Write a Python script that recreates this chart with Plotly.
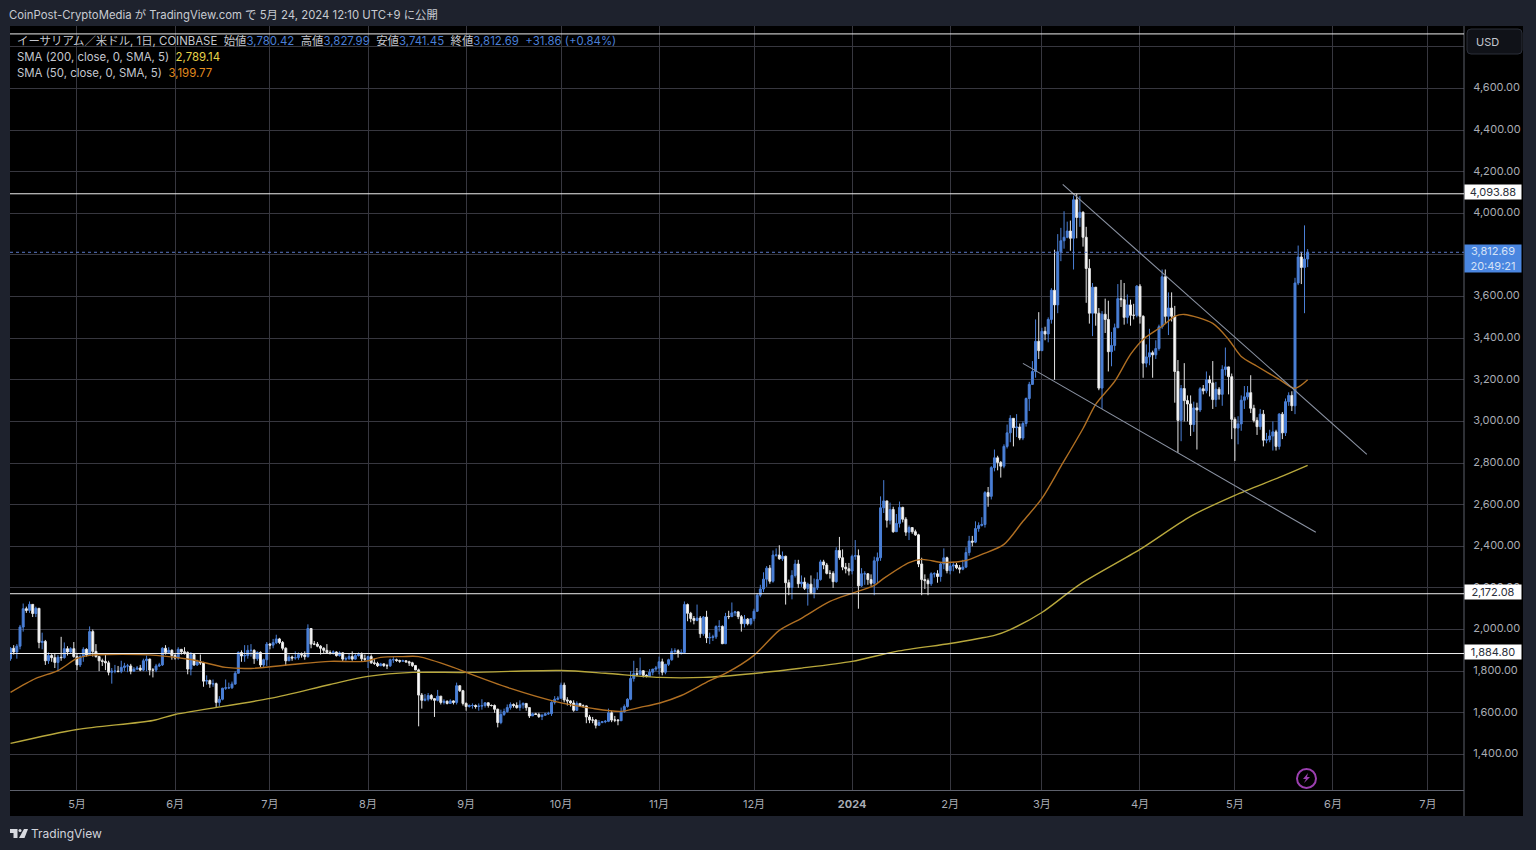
import pandas as pd
import plotly.graph_objects as go

# ---------- data ----------
closes_2304 = [1910,1892,1920,2012,2100,2092,2121,2077,2102,1938,1943,1850,1875,1865,1842,1867,1865,1908,1892,1908,1870]
highs_2304 = [1915,1925,1930,2022,2125,2110,2135,2120,2110,2102,1985,1950,1890,1882,1885,1878,1965,1938,1920,1915,1940]
lows_2304 = [1850,1880,1860,1905,1990,2080,2080,2060,2060,1910,1905,1830,1835,1845,1815,1800,1850,1860,1875,1885,1865]
closes_2305 = [1830,1870,1905,1878,1990,1895,1870,1850,1847,1840,1795,1800,1800,1798,1818,1825,1825,1800,1810,1815,1805,1850,1858,1805,1805,1825,1830,1910,1890,1900,1875]
highs_2305 = [1885,1880,1915,1910,2015,2000,1930,1870,1860,1880,1850,1815,1830,1825,1850,1840,1835,1835,1820,1825,1830,1860,1875,1860,1815,1835,1840,1915,1925,1915,1905]
lows_2305 = [1805,1820,1845,1870,1875,1870,1865,1800,1825,1805,1780,1740,1790,1795,1790,1800,1795,1785,1798,1805,1800,1800,1800,1780,1770,1795,1820,1825,1880,1885,1855]
closes_2306 = [1863,1905,1893,1890,1810,1880,1830,1845,1840,1752,1755,1738,1740,1650,1665,1718,1720,1720,1738,1790,1890,1873,1875,1900,1900,1860,1890,1830,1855,1930]
highs_2306 = [1885,1915,1905,1915,1895,1892,1885,1855,1880,1845,1780,1760,1760,1745,1680,1720,1760,1745,1750,1800,1895,1900,1925,1925,1930,1905,1895,1895,1860,1940]
lows_2306 = [1855,1855,1880,1880,1785,1780,1825,1825,1830,1725,1735,1720,1725,1625,1630,1660,1710,1715,1715,1735,1790,1845,1845,1860,1870,1835,1850,1820,1820,1825]
closes_2307 = [1925,1937,1955,1938,1910,1850,1868,1863,1865,1880,1878,1870,2005,1930,1930,1920,1910,1900,1890,1888,1892,1875,1888,1858,1860,1870,1858,1875,1880,1860,1857]
highs_2307 = [1935,1955,1975,1960,1945,1915,1880,1875,1895,1890,1890,1895,2025,2000,1945,1940,1925,1915,1930,1900,1900,1895,1895,1890,1870,1885,1895,1882,1890,1890,1880]
lows_2307 = [1905,1910,1930,1930,1900,1825,1850,1850,1855,1855,1865,1855,1865,1910,1925,1915,1880,1885,1885,1880,1880,1870,1870,1845,1850,1855,1850,1855,1870,1845,1845]
closes_2308 = [1870,1840,1837,1826,1835,1827,1826,1855,1855,1851,1848,1850,1845,1840,1827,1806,1685,1660,1665,1683,1668,1660,1680,1650,1655,1645,1657,1650,1730,1706,1645]
highs_2308 = [1875,1880,1860,1845,1840,1838,1835,1860,1870,1860,1855,1855,1850,1850,1845,1830,1812,1695,1690,1695,1690,1670,1710,1680,1665,1660,1665,1660,1745,1725,1710]
lows_2308 = [1815,1835,1830,1820,1825,1820,1810,1820,1840,1845,1840,1845,1840,1825,1820,1805,1535,1620,1655,1655,1660,1580,1655,1640,1640,1640,1645,1640,1640,1700,1635]
closes_2309 = [1630,1635,1635,1630,1632,1635,1648,1635,1635,1617,1553,1592,1606,1625,1640,1635,1625,1638,1645,1625,1585,1595,1592,1582,1588,1595,1596,1650,1665,1670]
highs_2309 = [1650,1640,1645,1640,1645,1665,1650,1650,1640,1640,1620,1615,1620,1640,1650,1645,1650,1660,1650,1645,1625,1600,1600,1600,1595,1600,1605,1655,1680,1680]
lows_2309 = [1610,1625,1620,1620,1610,1615,1625,1625,1630,1600,1530,1545,1585,1600,1615,1625,1620,1610,1620,1610,1575,1585,1590,1575,1565,1585,1590,1585,1640,1660]
closes_2310 = [1733,1662,1657,1647,1612,1645,1633,1633,1580,1565,1565,1540,1553,1557,1559,1600,1565,1565,1562,1605,1630,1665,1765,1788,1785,1802,1780,1775,1795,1810,1815]
highs_2310 = [1745,1745,1675,1660,1660,1655,1645,1640,1635,1590,1580,1570,1565,1560,1565,1620,1610,1585,1570,1625,1640,1670,1800,1850,1815,1865,1805,1785,1810,1810,1825]
lows_2310 = [1670,1650,1635,1630,1605,1610,1630,1625,1550,1550,1550,1525,1540,1550,1550,1555,1555,1555,1540,1560,1600,1625,1660,1750,1775,1780,1770,1770,1775,1780,1800]
closes_2311 = [1845,1795,1833,1855,1895,1898,1885,1890,2120,2078,2053,2044,2055,1980,2060,1960,1962,1965,2015,2015,1932,2063,2062,2080,2085,2062,2028,2050,2028,2052]
highs_2311 = [1870,1860,1835,1860,1910,1910,1905,1905,2135,2125,2085,2065,2120,2065,2065,2090,1985,1975,2020,2045,2020,2080,2090,2130,2090,2085,2070,2070,2055,2055]
lows_2311 = [1785,1780,1785,1825,1850,1880,1865,1880,1885,2040,2035,2025,2040,1960,1970,1935,1930,1945,1955,1990,1930,1930,2050,2060,2065,2050,1990,2010,2020,2020]
closes_2312 = [2088,2165,2195,2242,2295,2232,2358,2358,2340,2352,2225,2202,2260,2315,2220,2228,2198,2218,2177,2200,2240,2325,2310,2270,2270,2230,2380,2345,2300,2292,2281]
highs_2312 = [2100,2175,2215,2275,2305,2310,2380,2390,2405,2375,2355,2240,2285,2335,2335,2260,2250,2225,2260,2245,2275,2335,2335,2320,2285,2280,2395,2445,2385,2320,2320]
lows_2312 = [2040,2085,2155,2180,2205,2220,2225,2350,2335,2330,2120,2165,2145,2250,2200,2205,2190,2115,2170,2150,2190,2235,2290,2265,2245,2200,2225,2335,2285,2270,2260]
closes_2401 = [2352,2355,2210,2268,2268,2240,2222,2330,2345,2585,2618,2525,2577,2470,2510,2587,2530,2468,2490,2470,2455,2315,2240,2235,2220,2268,2268,2255,2315,2345,2283]
highs_2401 = [2360,2430,2385,2295,2280,2270,2265,2350,2370,2640,2718,2610,2610,2590,2555,2615,2590,2540,2500,2490,2480,2460,2345,2265,2245,2275,2275,2285,2320,2390,2350]
lows_2401 = [2265,2335,2100,2205,2215,2215,2210,2165,2220,2330,2560,2490,2505,2465,2495,2490,2515,2450,2430,2460,2450,2300,2165,2195,2165,2210,2250,2225,2230,2290,2270]
closes_2402 = [2305,2310,2297,2290,2300,2370,2425,2420,2485,2500,2505,2658,2640,2778,2825,2803,2785,2880,2945,3015,2970,2973,2920,2990,3110,3178,3240,3385,3340]
highs_2402 = [2325,2325,2320,2310,2335,2395,2450,2450,2520,2515,2540,2665,2685,2785,2865,2835,2810,2890,2985,3030,3015,3035,2990,3000,3115,3190,3290,3490,3525]
lows_2402 = [2265,2280,2290,2270,2285,2295,2355,2400,2415,2470,2495,2490,2590,2625,2760,2765,2730,2775,2870,2900,2880,2925,2910,2910,2975,3050,3175,3210,3300]
closes_2403 = [3433,3420,3490,3630,3560,3815,3868,3885,3915,3880,4065,3980,4005,3885,3735,3520,3645,3520,3160,3515,3490,3335,3365,3450,3590,3585,3500,3560,3510,3510,3650]
highs_2403 = [3450,3455,3500,3640,3825,3900,3930,4010,3960,3965,4085,4093.88,4083,4010,3935,3780,3665,3615,3545,3530,3590,3580,3430,3470,3660,3680,3665,3610,3585,3565,3655]
lows_2403 = [3340,3390,3380,3470,3200,3520,3770,3830,3880,3820,3730,3880,3935,3840,3570,3470,3410,3460,3150,3060,3425,3240,3265,3340,3450,3550,3465,3470,3460,3490,3500]
closes_2404 = [3505,3280,3310,3330,3320,3350,3455,3695,3505,3545,3505,3240,3005,3158,3100,3084,2985,3065,3055,3157,3147,3200,3185,3105,3155,3130,3250,3262,3215,3010]
highs_2404 = [3660,3510,3370,3445,3340,3390,3465,3730,3730,3620,3620,3555,3295,3175,3280,3125,3125,3095,3090,3165,3175,3240,3220,3290,3190,3165,3270,3355,3250,3230]
lows_2404 = [3470,3210,3260,3270,3210,3300,3340,3445,3470,3415,3480,3090,2850,2905,3000,3000,2930,2950,2865,3045,3130,3135,3120,3060,3070,3105,3075,3220,3130,2915]
closes_2405 = [2968,2988,3102,3118,3138,3063,3005,2975,3035,2910,2912,2930,2950,2880,3035,2945,3095,3125,3075,3665,3790,3740,3780.42,3812.69]
highs_2405 = [3020,3025,3125,3170,3170,3222,3080,3020,3060,3055,2945,2960,3000,2960,3040,3045,3110,3140,3145,3690,3845,3815,3942,3827.99]
lows_2405 = [2810,2890,2955,3060,3105,3040,2995,2935,2960,2880,2895,2900,2860,2860,2865,2915,2930,3075,3050,3035,3655,3660,3520,3741.45]
first_open = 1860

sma50_dates = ["2023-04-10","2023-04-18","2023-04-25","2023-05-01","2023-05-05","2023-05-11","2023-05-26","2023-06-06","2023-06-17","2023-06-25","2023-07-08","2023-07-20","2023-07-31","2023-08-05","2023-08-12","2023-08-17","2023-08-28","2023-09-01","2023-09-15","2023-09-29","2023-10-11","2023-10-20","2023-10-26","2023-11-01","2023-11-08","2023-11-17","2023-11-22","2023-12-01","2023-12-09","2023-12-16","2023-12-25","2024-01-01","2024-01-08","2024-01-11","2024-01-19","2024-01-23","2024-01-30","2024-02-06","2024-02-11","2024-02-18","2024-02-24","2024-03-01","2024-03-07","2024-03-14","2024-03-18","2024-03-24","2024-03-29","2024-04-02","2024-04-08","2024-04-12","2024-04-15","2024-04-24","2024-04-29","2024-05-03","2024-05-08","2024-05-15","2024-05-20","2024-05-24"]
sma50_values = [1698,1765,1803,1861,1876,1880,1876,1856,1818,1813,1832,1847,1847,1866,1870,1870,1818,1794,1717,1655,1621,1607,1626,1646,1683,1755,1789,1876,1996,2054,2135,2174,2212,2246,2322,2337,2322,2332,2361,2409,2520,2630,2784,2966,3082,3192,3322,3394,3457,3505,3514,3471,3394,3312,3265,3202,3159,3199.77]
sma200_dates = ["2023-04-10","2023-05-01","2023-05-25","2023-06-01","2023-07-01","2023-07-20","2023-08-01","2023-08-15","2023-09-01","2023-10-01","2023-10-15","2023-11-01","2023-11-15","2023-12-01","2023-12-15","2024-01-01","2024-01-15","2024-02-01","2024-02-10","2024-02-15","2024-02-20","2024-03-01","2024-03-13","2024-04-01","2024-04-17","2024-05-01","2024-05-15","2024-05-24"]
sma200_values = [1453,1520,1563,1592,1669,1736,1775,1794,1794,1803,1790,1770,1770,1789,1813,1847,1895,1933,1957,1972,2000,2082,2217,2385,2544,2645,2731,2789.14]

trend_upper_dates = ["2024-03-07 14:00","2024-06-11 17:00"]
trend_upper_prices = [4139,2842]
trend_lower_dates = ["2024-02-24 00:00","2024-05-26 14:00"]
trend_lower_prices = [3279,2467]

level_values = [4862,4093.88,2172.08,1884.80]
level_labels = ["4,093.88","2,172.08","1,884.80"]
price_ticks = [1400,1600,1800,2000,2200,2400,2600,2800,3000,3200,3400,3600,3800,4000,4200,4400,4600,4800]
price_tick_labels = ["1,400.00","1,600.00","1,800.00","2,000.00","2,200.00","2,400.00","2,600.00","2,800.00","3,000.00","3,200.00","3,400.00","3,600.00","","4,000.00","4,200.00","4,400.00","4,600.00",""]
time_ticks = ["2023-05-01","2023-06-01","2023-07-01","2023-08-01","2023-09-01","2023-10-01","2023-11-01","2023-12-01","2024-01-01","2024-02-01","2024-03-01","2024-04-01","2024-05-01","2024-06-01","2024-07-01"]
time_tick_labels = ["5月","6月","7月","8月","9月","10月","11月","12月","<b>2024</b>","2月","3月","4月","5月","6月","7月"]

closes = closes_2304+closes_2305+closes_2306+closes_2307+closes_2308+closes_2309+closes_2310+closes_2311+closes_2312+closes_2401+closes_2402+closes_2403+closes_2404+closes_2405
highs = highs_2304+highs_2305+highs_2306+highs_2307+highs_2308+highs_2309+highs_2310+highs_2311+highs_2312+highs_2401+highs_2402+highs_2403+highs_2404+highs_2405
lows = lows_2304+lows_2305+lows_2306+lows_2307+lows_2308+lows_2309+lows_2310+lows_2311+lows_2312+lows_2401+lows_2402+lows_2403+lows_2404+lows_2405
opens = [first_open] + closes[:-1]
dates = pd.date_range("2023-04-10", periods=len(closes), freq="D")

# ---------- style ----------
W, H = 1536, 850
L, R, T, B = 10, 1464, 26, 790
BG = "#1e222d"
BLUE = "#4a7fd6"
FONT = "Inter, 'Noto Sans CJK JP', sans-serif"
GRID = "#37373f"
def px(v): return (v - L) / (R - L)
def py(v): return (B - v) / (B - T)

fig = go.Figure()
fig.add_trace(go.Candlestick(x=dates, open=opens, high=highs, low=lows, close=closes,
    increasing=dict(line=dict(color=BLUE, width=1), fillcolor=BLUE),
    decreasing=dict(line=dict(color="#e6e6e6", width=1), fillcolor="#ffffff"),
    whiskerwidth=0, hoverinfo="skip", showlegend=False))
fig.add_trace(go.Scatter(x=sma200_dates, y=sma200_values, mode="lines", line=dict(color="#b8a83c", width=1.4, shape="spline", smoothing=0.8), hoverinfo="skip", showlegend=False))
fig.add_trace(go.Scatter(x=sma50_dates, y=sma50_values, mode="lines", line=dict(color="#b06f22", width=1.4, shape="spline", smoothing=0.8), hoverinfo="skip", showlegend=False))
for xs, ys in ((trend_upper_dates, trend_upper_prices), (trend_lower_dates, trend_lower_prices)):
    fig.add_trace(go.Scatter(x=xs, y=ys, mode="lines", line=dict(color="#8b93a3", width=1.1), hoverinfo="skip", showlegend=False))

shapes = []
# black panels outside the plot
shapes.append(dict(type="rect", xref="paper", yref="paper", x0=px(L), x1=px(R), y0=py(816), y1=py(B), fillcolor="#000000", line_width=0, layer="below"))
shapes.append(dict(type="rect", xref="paper", yref="paper", x0=px(R), x1=px(1523), y0=py(816), y1=py(T), fillcolor="#000000", line_width=0, layer="below"))
shapes.append(dict(type="line", xref="paper", yref="paper", x0=1, x1=1, y0=py(816), y1=1, line=dict(color="#5d606b", width=1)))
# levels
for v in level_values:
    shapes.append(dict(type="line", xref="paper", yref="y", x0=0, x1=1, y0=v, y1=v, line=dict(color="#eeeeee", width=1)))
shapes.append(dict(type="line", xref="paper", yref="y", x0=0, x1=1, y0=closes[-1], y1=closes[-1], line=dict(color="#5a78c8", width=1, dash="dot")))
# USD button
def rrect(x0, y0, x1, y1, r):
    a, b, c, d = px(x0), px(x1), py(y0), py(y1)
    rx, ry = r / (R - L), r / (B - T)
    return (f"M{a+rx},{c} L{b-rx},{c} Q{b},{c} {b},{c-ry} L{b},{d+ry} Q{b},{d} {b-rx},{d} "
            f"L{a+rx},{d} Q{a},{d} {a},{d+ry} L{a},{c-ry} Q{a},{c} {a+rx},{c} Z")
shapes.append(dict(type="path", xref="paper", yref="paper", path=rrect(1467, 29, 1522, 54, 4), fillcolor="#101218", line=dict(color="#2a2e39", width=1)))
# lightning icon
shapes.append(dict(type="circle", xref="paper", yref="paper", x0=px(1297), x1=px(1316), y0=py(788), y1=py(769), line=dict(color="#9b3fb0", width=2)))
def poly(pts):
    return "M" + " L".join(f"{px(x)},{py(y)}" for x, y in pts) + " Z"
shapes.append(dict(type="path", xref="paper", yref="paper", path=poly([(1308,773),(1303,779),(1306,779),(1304,783),(1310,777),(1307,777)]), fillcolor="#9b3fb0", line_width=0))
# TradingView logo
shapes.append(dict(type="path", xref="paper", yref="paper", path=poly([(10,829),(17.5,829),(17.5,838),(13.5,838),(13.5,833),(10,833)]), fillcolor="#d8dae0", line_width=0))
shapes.append(dict(type="circle", xref="paper", yref="paper", x0=px(18.5), x1=px(21.5), y0=py(832), y1=py(829), fillcolor="#d8dae0", line_width=0))
shapes.append(dict(type="path", xref="paper", yref="paper", path=poly([(24,829),(28,829),(24.5,838),(19,838)]), fillcolor="#d8dae0", line_width=0))

def note(x, y, text, color="#c4c7cf", size=11.5, anchor="left", **kw):
    return dict(xref="paper", yref="paper", x=px(x), y=py(y), text=text, showarrow=False, xanchor=anchor, yanchor="middle",
                font=dict(family=FONT, size=size, color=color), align="left", **kw)

V = "#4a7fd6"
annotations = [
    note(7, 14.5, "CoinPost-CryptoMedia が TradingView.com で 5月 24, 2024 12:10 UTC+9 に公開", color="#c8cbd2", size=11.35),
    note(14.5, 41, f"イーサリアム／米ドル, 1日, COINBASE  始値<span style='color:{V}'>3,780.42</span>  高値<span style='color:{V}'>3,827.99</span>  安値<span style='color:{V}'>3,741.45</span>  終値<span style='color:{V}'>3,812.69</span>  <span style='color:{V}'>+31.86 (+0.84%)</span>", size=11.42),
    note(14.5, 57, "SMA (200, close, 0, SMA, 5)  <span style='color:#e8d44a'>2,789.14</span>", size=11.42),
    note(14.5, 73, "SMA (50, close, 0, SMA, 5)  <span style='color:#e08a1e'>3,199.77</span>", size=11.42),
    note(1473.5, 41.5, "USD", color="#c4c7cf", size=11),
    note(29, 834, "TradingView", color="#d1d4dc", size=12),
]
for v, label in zip(level_values[1:], level_labels):
    annotations.append(dict(xref="paper", yref="y", x=1, y=v, yshift=1.5, text=label, showarrow=False, xanchor="left", yanchor="middle",
                            bgcolor="#ffffff", width=55, height=13, borderpad=0.5, align="center",
                            font=dict(family=FONT, size=11, color="#2b2f3a")))
annotations.append(dict(xref="paper", yref="y", x=1, y=closes[-1], yshift=-6, text=f"{closes[-1]:,.2f}<br>20:49:21", showarrow=False,
                        xanchor="left", yanchor="middle", bgcolor="#4a86e0", width=55, height=26, borderpad=0.5, align="center",
                        font=dict(family=FONT, size=11, color="#d5e2f7")))

fig.update_layout(
    width=W, height=H, autosize=False,
    margin=dict(l=L, r=W - R, t=T, b=H - B, pad=0),
    paper_bgcolor=BG, plot_bgcolor="#000000", boxgap=0.12,
    showlegend=False, shapes=shapes, annotations=annotations,
    font=dict(family=FONT, color="#a9acb4", size=11),
    xaxis=dict(type="date", range=["2023-04-09 20:00", "2024-07-12 10:00"], rangeslider=dict(visible=False),
               tickmode="array", tickvals=time_ticks, ticktext=time_tick_labels, showgrid=True, gridcolor=GRID, gridwidth=1,
               zeroline=False, showline=True, linecolor="#5d606b", linewidth=1,
               ticks="outside", ticklen=4, tickcolor="rgba(0,0,0,0)", tickfont=dict(size=11, color="#a9acb4", family=FONT), fixedrange=True),
    yaxis=dict(side="right", range=[1229, 4900], tickmode="array", tickvals=price_ticks, ticktext=price_tick_labels,
               showgrid=True, gridcolor=GRID, gridwidth=1, zeroline=False, showline=False, ticklabelshift=-1,
               ticks="outside", ticklen=6, tickcolor="rgba(0,0,0,0)", tickfont=dict(size=11, color="#a9acb4", family=FONT), fixedrange=True),
)

fig.write_html("out.html", config=dict(displayModeBar=False),
               post_script="document.body.style.margin='0';document.body.style.overflow='hidden';")
